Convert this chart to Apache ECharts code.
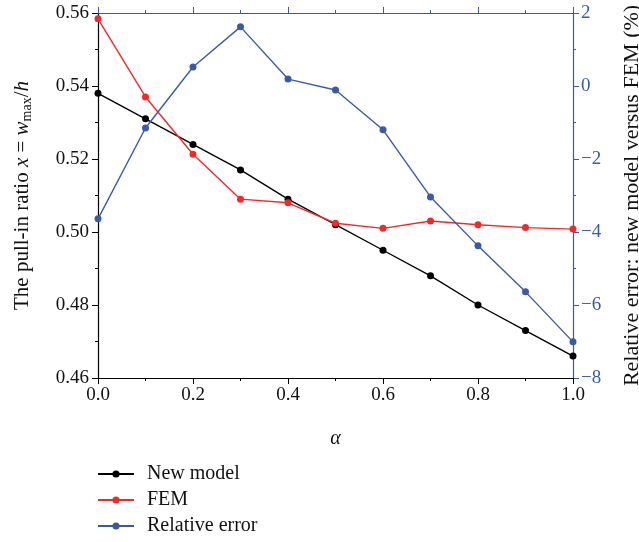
<!DOCTYPE html>
<html>
<head>
<meta charset="utf-8">
<script src="https://cdn.jsdelivr.net/npm/echarts@6/dist/echarts.min.js"></script>
<style>
html, body { margin: 0; padding: 0; background: #fff; }
#chart { width: 639px; height: 542px; }
</style>
</head>
<body>
<div id="chart"></div>
<script>
var alpha = [0, 0.1, 0.2, 0.3, 0.4, 0.5, 0.6, 0.7, 0.8, 0.9, 1.0];
var newModel = [0.538, 0.531, 0.524, 0.517, 0.509, 0.502, 0.495, 0.488, 0.480, 0.473, 0.466];
var fem = [0.5584, 0.537, 0.5213, 0.509, 0.508, 0.5024, 0.501, 0.503, 0.502, 0.5012, 0.5008];
var relError = [-3.64, -1.15, 0.52, 1.62, 0.19, -0.11, -1.2, -3.04, -4.38, -5.64, -7.01];

var blue = '#3a5aa8';
var red = '#ee2b2b';
var font = 'Liberation Serif';

function pairs(ys) {
    return ys.map(function (v, i) { return [alpha[i], v]; });
}

var myChart = echarts.init(document.getElementById('chart'));

option = {
    animation: false,
    textStyle: { fontFamily: font },
    grid: { left: 98, right: 66, top: 13, bottom: 164, outerBoundsMode: 'none' },
    legend: {
        orient: 'vertical',
        left: 97,
        top: 464,
        padding: 0,
        height: 120,
        itemWidth: 36,
        itemHeight: 9,
        itemGap: 6,
        textStyle: { fontFamily: font, fontSize: 20, color: '#111', padding: [0, 0, 0, 8] },
        data: ['New model', 'FEM', 'Relative error']
    },
    xAxis: [
        {
            type: 'value',
            position: 'bottom',
            min: 0, max: 1, interval: 0.2,
            name: 'α',
            nameLocation: 'middle',
            nameGap: 51,
            nameTextStyle: { fontFamily: font, fontSize: 20, fontStyle: 'italic', color: '#111' },
            axisLine: { onZero: false, lineStyle: { color: '#000', width: 1.2 } },
            axisTick: { length: 6, lineStyle: { color: '#000' } },
            minorTick: { show: true, splitNumber: 2, length: 3, lineStyle: { color: '#000' } },
            axisLabel: { fontFamily: font, fontSize: 19, color: '#111', margin: 8,
                formatter: function (v) { return v.toFixed(1); } },
            splitLine: { show: false }
        },
        {
            type: 'value',
            position: 'top',
            min: 0, max: 1, interval: 0.2,
            axisLine: { onZero: false, lineStyle: { color: blue, width: 1.2 } },
            axisTick: { length: 6, lineStyle: { color: blue } },
            minorTick: { show: true, splitNumber: 2, length: 3, lineStyle: { color: blue } },
            axisLabel: { show: false },
            splitLine: { show: false }
        }
    ],
    yAxis: [
        {
            type: 'value',
            position: 'left',
            min: 0.46, max: 0.56, interval: 0.02,
            name: '{n|The pull-in ratio }{i|x}{n| = }{i|w}{s|max}{n|/}{i|h}',
            nameLocation: 'middle',
            nameRotate: 90,
            nameGap: 64,
            nameTextStyle: {
                rich: {
                    n: { fontFamily: font, fontSize: 21, color: '#111' },
                    i: { fontFamily: font, fontSize: 21, fontStyle: 'italic', color: '#111' },
                    s: { fontFamily: font, fontSize: 14, color: '#111', verticalAlign: 'bottom', padding: [9, 0, 0, 0] }
                }
            },
            axisLine: { show: true, onZero: false, lineStyle: { color: '#000', width: 1.2 } },
            axisTick: { length: 6, lineStyle: { color: '#000' } },
            minorTick: { show: true, splitNumber: 2, length: 3, lineStyle: { color: '#000' } },
            axisLabel: { fontFamily: font, fontSize: 19, color: '#111', margin: 9,
                formatter: function (v) { return v.toFixed(2); } },
            splitLine: { show: false }
        },
        {
            type: 'value',
            position: 'right',
            min: -8, max: 2, interval: 2,
            name: 'Relative error: new model versus FEM (%)',
            nameLocation: 'middle',
            nameRotate: 90,
            nameGap: 48,
            nameTextStyle: { fontFamily: font, fontSize: 22, color: '#111' },
            axisLine: { show: true, onZero: false, lineStyle: { color: blue, width: 1.2 } },
            axisTick: { length: 6, lineStyle: { color: blue } },
            minorTick: { show: true, splitNumber: 2, length: 3, lineStyle: { color: blue } },
            axisLabel: { fontFamily: font, fontSize: 19, color: blue, margin: 8,
                formatter: function (v) { return String(v).replace('-', '\u2212'); } },
            splitLine: { show: false }
        }
    ],
    series: [
        {
            name: 'New model',
            type: 'line',
            yAxisIndex: 0,
            data: pairs(newModel),
            symbol: 'circle',
            symbolSize: 7,
            itemStyle: { color: '#000' },
            lineStyle: { color: '#000', width: 1.4 }
        },
        {
            name: 'FEM',
            type: 'line',
            yAxisIndex: 0,
            data: pairs(fem),
            symbol: 'circle',
            symbolSize: 7,
            itemStyle: { color: red },
            lineStyle: { color: red, width: 1.4 }
        },
        {
            name: 'Relative error',
            type: 'line',
            yAxisIndex: 1,
            data: pairs(relError),
            symbol: 'circle',
            symbolSize: 7,
            itemStyle: { color: blue },
            lineStyle: { color: blue, width: 1.4 }
        }
    ]
};

myChart.setOption(option);
</script>
</body>
</html>
